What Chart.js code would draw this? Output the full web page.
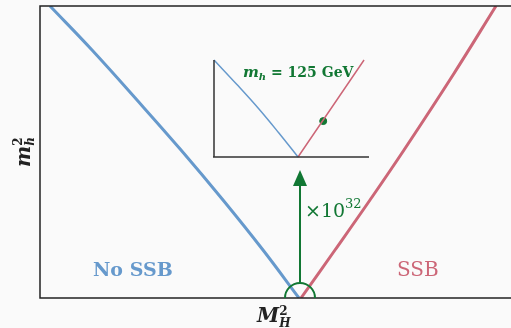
<!DOCTYPE html>
<html lang="en">
<head>
    <meta charset="UTF-8">
    <title>Higgs mass vs M_H^2</title>
    <script src="https://cdn.jsdelivr.net/npm/chart.js"></script>
    <style>
        body {
            margin: 0;
            background-color: #fafafa;
        }
        #wrap {
            position: relative;
            width: 511px;
            height: 328px;
        }
        #mainChart {
            position: absolute;
            left: 0;
            top: 0;
        }
        #inset {
            position: absolute;
            left: 213px;
            top: 59px;
        }
    </style>
</head>
<body>
<div id="wrap">
    <canvas id="mainChart" width="511" height="328"></canvas>
    <canvas id="inset" width="158" height="100"></canvas>
</div>
<script>
    // main panel: m_h^2 against M_H^2 (arbitrary units, vertex at 0)
    var noSsbX = [-2.50, -2.08, -1.63, -1.19, -0.77, -0.37, -0.01];
    var noSsbY = [2.92, 2.48, 1.98, 1.48, 0.98, 0.48, 0];
    var ssbX = [0.01, 0.35, 0.70, 1.04, 1.53, 1.96];
    var ssbY = [0, 0.48, 0.98, 1.48, 2.23, 2.92];
    var regionLabels = ['No SSB', 'SSB'];

    // inset: zoomed by 10^32
    var insetBlueX = [-1, -0.73, -0.47, -0.23, 0];
    var insetBlueY = [1, 0.75, 0.5, 0.25, 0];
    var insetRedX = [0, 0.786];
    var insetRedY = [0, 1];
    var higgsPoint = [0.30, 0.37];

    var BLUE = '#6699CC', RED = '#CC6677', GREEN = '#117733', INK = '#222';
    var SERIF = '"DejaVu Serif", serif';

    function pts(xs, ys) {
        return xs.map(function(x, i) { return {x: x, y: ys[i]}; });
    }

    // draw a list of text runs one after another
    function runs(ctx, x, y, list, color) {
        ctx.fillStyle = color;
        ctx.textBaseline = 'alphabetic';
        ctx.textAlign = 'left';
        list.forEach(function(r) {
            ctx.font = r.f;
            ctx.fillText(r.t, x + (r.dx || 0), y + (r.dy || 0));
            if (!r.stay) x += ctx.measureText(r.t).width + (r.dx || 0);
        });
    }

    var mainDecor = {
        id: 'mainDecor',
        afterDraw: function(chart) {
            var ctx = chart.ctx, a = chart.chartArea;
            var xs = chart.scales.x, ys = chart.scales.y;
            ctx.save();
            // frame (left, top, bottom)
            ctx.strokeStyle = INK;
            ctx.lineWidth = 1.5;
            ctx.beginPath();
            ctx.moveTo(chart.width, a.top); ctx.lineTo(a.left, a.top);
            ctx.lineTo(a.left, a.bottom); ctx.lineTo(chart.width, a.bottom);
            ctx.stroke();

            // arrow and angle mark at the vertex
            var x0 = xs.getPixelForValue(0), y0 = ys.getPixelForValue(0);
            var r = 15;
            ctx.strokeStyle = GREEN; ctx.fillStyle = GREEN; ctx.lineWidth = 2;
            ctx.beginPath();
            ctx.arc(x0, y0, r, Math.PI, 2 * Math.PI);
            ctx.stroke();
            var tip = ys.getPixelForValue(1.28);
            ctx.beginPath();
            ctx.moveTo(x0, y0 - r); ctx.lineTo(x0, tip + 12);
            ctx.stroke();
            ctx.beginPath();
            ctx.moveTo(x0, tip); ctx.lineTo(x0 - 7, tip + 16); ctx.lineTo(x0 + 7, tip + 16);
            ctx.closePath(); ctx.fill();

            runs(ctx, 305, 217, [
                {t: '×10', f: '19px ' + SERIF},
                {t: '32', f: '13px ' + SERIF, dy: -9}
            ], GREEN);

            // region labels
            ctx.font = 'bold 19px ' + SERIF;
            ctx.fillStyle = BLUE;
            ctx.fillText(regionLabels[0], 93, 276);
            ctx.font = '20px ' + SERIF;
            ctx.fillStyle = RED;
            ctx.fillText(regionLabels[1], 397, 276);

            // x axis label M_H^2
            runs(ctx, 257, 322, [
                {t: 'M', f: 'bold italic 20px ' + SERIF},
                {t: '2', f: 'bold 12px ' + SERIF, dy: -7, stay: true},
                {t: 'H', f: 'bold italic 12px ' + SERIF, dy: 5}
            ], INK);

            // y axis label m_h^2
            ctx.translate(30, 167);
            ctx.rotate(-Math.PI / 2);
            runs(ctx, 0, 0, [
                {t: 'm', f: 'bold italic 20px ' + SERIF},
                {t: '2', f: 'bold 12px ' + SERIF, dy: -8, stay: true},
                {t: 'h', f: 'bold italic 12px ' + SERIF, dy: 4}
            ], INK);
            ctx.restore();
        }
    };

    new Chart(document.getElementById('mainChart'), {
        type: 'scatter',
        data: {
            datasets: [
                {label: regionLabels[0], data: pts(noSsbX, noSsbY), borderColor: BLUE, borderWidth: 3},
                {label: regionLabels[1], data: pts(ssbX, ssbY), borderColor: RED, borderWidth: 3}
            ]
        },
        options: {
            responsive: false,
            animation: false,
            events: [],
            layout: {autoPadding: false, padding: {left: 40, right: 0, top: 6, bottom: 30}},
            elements: {
                line: {tension: 0.4, fill: false},
                point: {radius: 0}
            },
            datasets: {scatter: {showLine: true}},
            scales: {
                x: {type: 'linear', display: false, min: -2.6, max: 2.11},
                y: {type: 'linear', display: false, min: 0, max: 2.92}
            },
            plugins: {legend: {display: false}, tooltip: {enabled: false}}
        },
        plugins: [mainDecor]
    });

    var insetDecor = {
        id: 'insetDecor',
        afterDraw: function(chart) {
            var ctx = chart.ctx, a = chart.chartArea;
            ctx.save();
            ctx.strokeStyle = '#333';
            ctx.lineWidth = 1.5;
            ctx.beginPath();
            ctx.moveTo(a.left, a.top); ctx.lineTo(a.left, a.bottom);
            ctx.moveTo(a.left - 2, a.bottom); ctx.lineTo(a.right, a.bottom);
            ctx.stroke();
            runs(ctx, 30, 18, [
                {t: 'm', f: 'bold italic 15px ' + SERIF},
                {t: 'h', f: 'bold italic 10px ' + SERIF, dy: 3},
                {t: ' = 125 GeV', f: 'bold 14px ' + SERIF}
            ], GREEN);
            ctx.restore();
        }
    };

    new Chart(document.getElementById('inset'), {
        type: 'scatter',
        data: {
            datasets: [
                {data: pts(insetBlueX, insetBlueY), borderColor: BLUE, borderWidth: 1.5, showLine: true, pointRadius: 0, clip: 4},
                {data: pts(insetRedX, insetRedY), borderColor: RED, borderWidth: 1.5, showLine: true, pointRadius: 0, clip: 4},
                {data: [{x: higgsPoint[0], y: higgsPoint[1]}], backgroundColor: GREEN, borderColor: GREEN, pointRadius: 3.5, clip: 4}
            ]
        },
        options: {
            responsive: false,
            animation: false,
            events: [],
            layout: {autoPadding: false, padding: {left: 1, right: 2, top: 1, bottom: 2}},
            elements: {line: {tension: 0.4}},
            scales: {
                x: {type: 'linear', display: false, min: -1, max: 0.845},
                y: {type: 'linear', display: false, min: 0, max: 1}
            },
            plugins: {legend: {display: false}, tooltip: {enabled: false}}
        },
        plugins: [insetDecor]
    });
</script>
</body>
</html>
